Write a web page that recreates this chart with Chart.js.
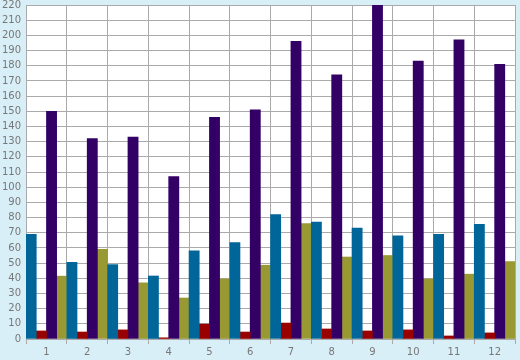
<!DOCTYPE html>
<html>
<head>
<meta charset="utf-8">
<script src="https://cdn.jsdelivr.net/npm/chart.js@4/dist/chart.umd.min.js"></script>
<style>
  body { margin: 0; background: #d9eff7; }
  #barChart { display: block; }
</style>
</head>
<body>
<canvas id="barChart" width="520" height="360"></canvas>
<script>
    const labels = ['1', '2', '3', '4', '5', '6', '7', '8', '9', '10', '11', '12'];
    const tealValues = [69, 50.5, 49, 41.5, 58, 63.5, 82, 77, 73, 68, 69, 75.5];
    const redValues = [5.3, 4.6, 6, 0.8, 9.8, 4.6, 10.5, 6.6, 5.3, 6, 2, 4];
    const purpleValues = [150, 132, 133, 107, 146, 151, 196, 174, 220, 183, 197, 181];
    const oliveValues = [41.4, 59, 37, 27, 39.5, 48.6, 76, 54, 55, 39.5, 42.7, 51];
    const yTicks = { min: 0, max: 220, step: 10 };

    const bgPlugin = {
        id: 'bg',
        beforeDraw(chart) {
            const ctx = chart.ctx;
            const a = chart.chartArea;
            ctx.save();
            ctx.fillStyle = '#d9eff7';
            ctx.fillRect(0, 0, chart.width, chart.height);
            ctx.fillStyle = '#ffffff';
            ctx.fillRect(a.left, a.top, a.right - a.left, a.bottom - a.top);
            ctx.restore();
        }
    };

    const bar = (data, color) => ({
        data: data,
        backgroundColor: color,
        borderWidth: 0,
        categoryPercentage: 1,
        barPercentage: 1
    });

    const configBar = {
        type: 'bar',
        data: {
            labels: labels,
            datasets: [
                bar(tealValues, '#006699'),
                bar(redValues, '#990000'),
                bar(purpleValues, '#330066'),
                bar(oliveValues, '#999933')
            ]
        },
        options: {
            responsive: false,
            animation: false,
            layout: { padding: { top: 0, right: 5, left: 0, bottom: 0 } },
            plugins: { legend: { display: false }, tooltip: { enabled: false } },
            scales: {
                x: {
                    grid: { color: '#aaaaaa', lineWidth: 1, offset: true, tickLength: 5 },
                    border: { color: '#aaaaaa' },
                    ticks: { color: '#777777', font: { family: 'DejaVu Sans', size: 10, lineHeight: 1.2 }, padding: 2 }
                },
                y: {
                    min: yTicks.min,
                    max: yTicks.max,
                    afterFit(scale) { scale.width += 2; },
                    grid: { color: '#aaaaaa', lineWidth: 1, tickLength: 5, tickColor: 'rgba(0,0,0,0)' },
                    border: { color: '#aaaaaa' },
                    ticks: {
                        stepSize: yTicks.step,
                        autoSkip: false,
                        color: '#777777',
                        font: { family: 'DejaVu Sans', size: 10, lineHeight: 1 },
                        padding: 0
                    }
                }
            }
        },
        plugins: [bgPlugin]
    };

    new Chart(document.getElementById('barChart'), configBar);
</script>
</body>
</html>
